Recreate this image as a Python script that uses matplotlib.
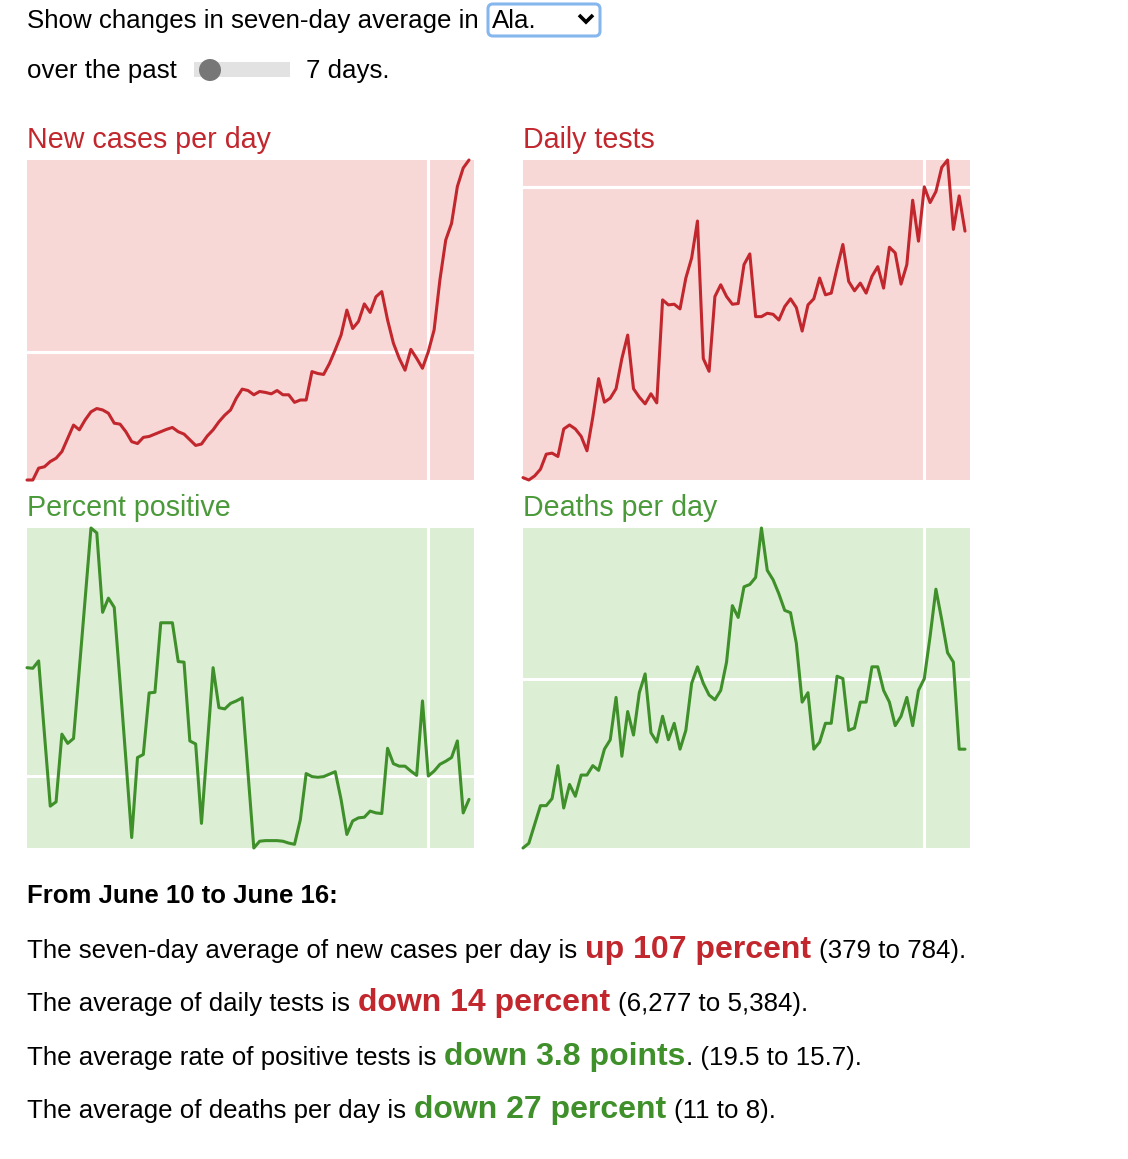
import matplotlib
matplotlib.use("Agg")
import matplotlib.pyplot as plt
from matplotlib.patches import FancyBboxPatch, Rectangle, Ellipse
from matplotlib.lines import Line2D

# daily values, April 1 - June 16 (77 days)
cases = [108, 108, 133, 136, 147, 154, 168, 196, 224, 214, 235, 252, 259, 256, 249, 228,
         226, 210, 189, 185, 198, 200, 205, 210, 215, 219, 210, 205, 193, 181, 184, 201,
         214, 231, 245, 256, 281, 300, 297, 288, 295, 293, 290, 297, 288, 288, 272, 277,
         277, 337, 333, 331, 354, 383, 414, 467, 428, 443, 480, 462, 495, 506, 446, 397,
         365, 340, 384, 365, 344, 379, 425, 531, 615, 650, 728, 767, 784]
tests = [412, 364, 446, 581, 885, 906, 838, 1393, 1474, 1393, 1244, 953, 1630, 2408, 1934,
         2015, 2205, 2813, 3287, 2205, 2035, 1900, 2103, 1920, 3997, 3896, 3909, 3815, 4437,
         4843, 5587, 2813, 2556, 4065, 4302, 4065, 3909, 3923, 4708, 4924, 3659, 3659, 3727,
         3706, 3591, 3862, 4018, 3842, 3368, 3896, 4018, 4437, 4099, 4133, 4640, 5114, 4369,
         4180, 4335, 4133, 4471, 4667, 4234, 5059, 4944, 4315, 4708, 6007, 5181, 6277, 5959,
         6182, 6669, 6818, 5418, 6094, 5384]
positive = [37.1, 37.0, 38.2, 26.3, 14.6, 15.3, 26.3, 24.8, 25.6, 36.9, 48.3, 59.8, 59.0,
            46.1, 48.4, 46.9, 34.7, 22.2, 9.5, 22.5, 23.0, 33.0, 33.1, 44.4, 44.4, 44.4, 38.1,
            38.0, 25.2, 24.7, 11.8, 24.4, 37.1, 30.6, 30.4, 31.3, 31.7, 32.2, 20.0, 7.8, 8.9,
            9.0, 9.0, 9.0, 8.9, 8.6, 8.4, 12.4, 19.9, 19.4, 19.3, 19.4, 19.8, 20.2, 15.7, 10.0,
            12.2, 12.7, 12.8, 13.8, 13.5, 13.4, 24.0, 21.5, 21.1, 21.1, 20.3, 19.6, 31.7, 19.5,
            20.3, 21.4, 21.9, 22.5, 25.2, 13.5, 15.7]
deaths = [3.8, 4.0, 4.8, 5.6, 5.6, 5.9, 7.3, 5.5, 6.5, 6.0, 6.9, 6.9, 7.3, 7.1, 8.0, 8.4,
          10.2, 7.7, 9.6, 8.6, 10.4, 11.2, 8.7, 8.3, 9.4, 8.4, 9.1, 8.0, 8.8, 10.8, 11.5, 10.8,
          10.3, 10.1, 10.5, 11.7, 14.1, 13.6, 14.9, 15.0, 15.3, 17.4, 15.6, 15.2, 14.6, 13.9,
          13.8, 12.5, 10.0, 10.4, 8.0, 8.3, 9.1, 9.1, 11.1, 11.0, 8.8, 8.9, 10.0, 10.0, 11.5,
          11.5, 10.5, 10.0, 9.0, 9.4, 10.2, 9.0, 10.5, 11.0, 12.8, 14.8, 13.5, 12.1, 11.7, 8.0,
          8.0]
window = 7  # days in the comparison window

RED = "#c1272d"
RED_BG = "#f8d7d7"
GREEN = "#3f8f2a"
GREEN_T = "#4a9a3a"
GREEN_BG = "#dcefd4"
FONT = "Liberation Sans"

W, H = 1128, 1159
fig = plt.figure(figsize=(W / 100, H / 100), dpi=100)
fig.patch.set_facecolor("white")

# full-figure axes in pixel units for the text and controls
bg = fig.add_axes([0, 0, 1, 1])
bg.set_xlim(0, W)
bg.set_ylim(H, 0)
bg.axis("off")


def panel(x0, y0, vals, title, face, color, tcolor):
    ax = fig.add_axes([x0 / W, 1 - (y0 + 320) / H, 447 / W, 320 / H])
    ax.set_facecolor(face)
    n = len(vals)
    split = n - 1 - window
    ax.plot(range(n), vals, color=color, lw=2.2, clip_on=False, zorder=3,
            solid_joinstyle="round", solid_capstyle="round")
    ax.axhline(vals[split], color="white", lw=2.2, zorder=2)
    ax.axvline(split, color="white", lw=2.2, zorder=2)
    ax.set_xlim(0, (n - 1) * 447 / 442)
    ax.set_ylim(min(vals), max(vals))
    ax.set_xticks([])
    ax.set_yticks([])
    for s in ax.spines.values():
        s.set_visible(False)
    bg.text(x0, y0 - 12, title, color=tcolor, fontsize=20.6, family=FONT, va="baseline")


panel(27, 160, cases, "New cases per day", RED_BG, RED, RED)
panel(523, 160, tests, "Daily tests", RED_BG, RED, RED)
panel(27, 528, positive, "Percent positive", GREEN_BG, GREEN, GREEN_T)
panel(523, 528, deaths, "Deaths per day", GREEN_BG, GREEN, GREEN_T)

# controls at the top
bg.text(27, 28, "Show changes in seven-day average in", fontsize=18.6, family=FONT,
        va="baseline")
bg.add_patch(FancyBboxPatch((488, 4), 112, 32, boxstyle="round,pad=0,rounding_size=5",
                            fc="white", ec="#86b6ee", lw=2.2))
bg.text(492, 28, "Ala.", fontsize=18.6, family=FONT, va="baseline")
bg.add_line(Line2D([579, 586, 593], [15, 22, 15], color="black", lw=2.6,
                   solid_capstyle="butt", solid_joinstyle="miter"))
bg.text(27, 78, "over the past", fontsize=18.6, family=FONT, va="baseline")
bg.add_patch(Rectangle((194, 62), 96, 15, fc="#e2e2e2", ec="none"))
bg.add_patch(Ellipse((210, 70), 22, 22, fc="#777777", ec="none"))
bg.text(306, 78, "7 days.", fontsize=18.6, family=FONT, va="baseline")

# summary text
bg.text(27, 903, "From June 10 to June 16:", fontsize=18.5, weight="bold", family=FONT,
        va="baseline")

renderer = fig.canvas.get_renderer()
styles = {
    "n": dict(fontsize=18.6, color="black"),
    "r": dict(fontsize=23, color=RED, weight="bold"),
    "g": dict(fontsize=23, color=GREEN, weight="bold"),
}
lines = [
    (958, [("The seven-day average of new cases per day is", "n", 0),
           ("up 107 percent", "r", 8), ("(379 to 784).", "n", 8)]),
    (1011, [("The average of daily tests is", "n", 0),
            ("down 14 percent", "r", 8), ("(6,277 to 5,384).", "n", 8)]),
    (1065, [("The average rate of positive tests is", "n", 0),
            ("down 3.8 points", "g", 8), (". (19.5 to 15.7).", "n", 0)]),
    (1118, [("The average of deaths per day is", "n", 0),
            ("down 27 percent", "g", 8), ("(11 to 8).", "n", 8)]),
]
for y, parts in lines:
    x = 27
    for txt, kind, gap in parts:
        x += gap
        t = bg.text(x, y, txt, family=FONT, va="baseline", **styles[kind])
        x += t.get_window_extent(renderer=renderer).width

fig.savefig("out.png", dpi=100)
